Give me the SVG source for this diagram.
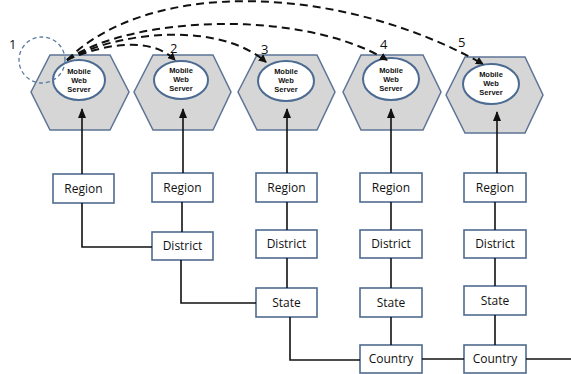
<svg xmlns="http://www.w3.org/2000/svg" width="571" height="374" viewBox="0 0 571 374">
<defs>
<style>
.hex{fill:#d6d6d6;stroke:#5d7496;stroke-width:1.5}
.ell{fill:#ffffff;stroke:#4c6b92;stroke-width:2}
.mt{font-family:"Liberation Sans",Arial,sans-serif;font-size:7.5px;font-weight:bold;fill:#111;text-anchor:middle}
.box{fill:#ffffff;stroke:#4f6b8e;stroke-width:1.6}
.bt{font-family:"Open Sans","Liberation Sans",sans-serif;font-size:12px;fill:#111;text-anchor:middle}
.num{font-family:"Open Sans","Liberation Sans",sans-serif;font-size:13px;fill:#111}
.ln{fill:none;stroke:#111;stroke-width:1.6}
.dash{fill:none;stroke:#111;stroke-width:2;stroke-dasharray:8,5}
</style>
<marker id="ah" markerWidth="8" markerHeight="8" refX="7" refY="4" orient="auto" markerUnits="userSpaceOnUse">
<path d="M0,0 L8,4 L0,8 Z" fill="#111"/>
</marker>
<marker id="av" markerWidth="10" markerHeight="10" refX="9" refY="5" orient="auto" markerUnits="userSpaceOnUse">
<path d="M0,1 L10,5 L0,9 Z" fill="#111"/>
</marker>
</defs>
<rect width="571" height="374" fill="#ffffff"/>

<g id="server1">
<polygon class="hex" points="31,92 50,55 110,55 129,92 110,130 50,130"/>
<ellipse class="ell" cx="79" cy="80" rx="26" ry="20"/>
<text class="mt" x="79" y="74">Mobile</text><text class="mt" x="79" y="83">Web</text><text class="mt" x="79" y="92">Server</text>
</g>
<g id="server2">
<polygon class="hex" points="134,92 153,55 213,55 231,92 213,130 153,130"/>
<ellipse class="ell" cx="181" cy="80" rx="27" ry="19"/>
<text class="mt" x="181" y="73">Mobile</text><text class="mt" x="181" y="82">Web</text><text class="mt" x="181" y="91">Server</text>
</g>
<g id="server3">
<polygon class="hex" points="238,92 257,55 317,55 335,92 317,130 257,130"/>
<ellipse class="ell" cx="286" cy="81" rx="28" ry="20"/>
<text class="mt" x="286" y="74">Mobile</text><text class="mt" x="286" y="83">Web</text><text class="mt" x="286" y="92">Server</text>
</g>
<g id="server4">
<polygon class="hex" points="343,92 361,55 423,55 441,92 423,130 361,130"/>
<ellipse class="ell" cx="391" cy="79" rx="28" ry="21"/>
<text class="mt" x="391" y="73">Mobile</text><text class="mt" x="391" y="82">Web</text><text class="mt" x="391" y="91">Server</text>
</g>
<g id="server5">
<polygon class="hex" points="446,95 465,57 525,57 543,95 525,133 465,133"/>
<ellipse class="ell" cx="491" cy="84" rx="28" ry="20"/>
<text class="mt" x="491" y="77">Mobile</text><text class="mt" x="491" y="86">Web</text><text class="mt" x="491" y="95">Server</text>
</g>

<circle cx="42" cy="60" r="23" fill="none" stroke="#5a7aa0" stroke-width="1.3" stroke-dasharray="4,3"/>

<g id="labels">
<text class="num" x="9" y="49">1</text>
<text class="num" x="170" y="53">2</text>
<text class="num" x="261" y="54">3</text>
<text class="num" x="380" y="49">4</text>
<text class="num" x="458" y="47">5</text>
</g>

<g id="region1"><rect class="box" x="53" y="174" width="61" height="29"/><text class="bt" x="83.5" y="193">Region</text></g>
<g id="region2"><rect class="box" x="152" y="173" width="61" height="29"/><text class="bt" x="182.5" y="192">Region</text></g>
<g id="district2"><rect class="box" x="152" y="232" width="61" height="28"/><text class="bt" x="182.5" y="250">District</text></g>
<g id="region3"><rect class="box" x="256" y="173" width="61" height="29"/><text class="bt" x="286.5" y="192">Region</text></g>
<g id="district3"><rect class="box" x="256" y="230" width="61" height="28"/><text class="bt" x="286.5" y="248">District</text></g>
<g id="state3"><rect class="box" x="256" y="288" width="61" height="29"/><text class="bt" x="286.5" y="307">State</text></g>
<g id="region4"><rect class="box" x="360" y="173" width="62" height="29"/><text class="bt" x="391" y="192">Region</text></g>
<g id="district4"><rect class="box" x="360" y="230" width="62" height="28"/><text class="bt" x="391" y="248">District</text></g>
<g id="state4"><rect class="box" x="360" y="288" width="62" height="29"/><text class="bt" x="391" y="307">State</text></g>
<g id="country4"><rect class="box" x="360" y="345" width="62" height="28"/><text class="bt" x="391" y="363">Country</text></g>
<g id="region5"><rect class="box" x="464" y="173" width="62" height="29"/><text class="bt" x="495" y="192">Region</text></g>
<g id="district5"><rect class="box" x="464" y="230" width="62" height="28"/><text class="bt" x="495" y="248">District</text></g>
<g id="state5"><rect class="box" x="464" y="286" width="62" height="29"/><text class="bt" x="495" y="305">State</text></g>
<g id="country5"><rect class="box" x="464" y="345" width="62" height="28"/><text class="bt" x="495" y="363">Country</text></g>

<g id="connectors">
<line class="ln" x1="82" y1="174" x2="82" y2="109" marker-end="url(#av)"/>
<line class="ln" x1="183" y1="173" x2="183" y2="109" marker-end="url(#av)"/>
<line class="ln" x1="287" y1="173" x2="287" y2="109" marker-end="url(#av)"/>
<line class="ln" x1="391" y1="173" x2="391" y2="109" marker-end="url(#av)"/>
<line class="ln" x1="497" y1="173" x2="497" y2="112" marker-end="url(#av)"/>
<polyline class="ln" points="82,203 82,247 152,247"/>
<line class="ln" x1="182" y1="202" x2="182" y2="232"/>
<polyline class="ln" points="181,260 181,303 256,303"/>
<line class="ln" x1="287" y1="202" x2="287" y2="230"/>
<line class="ln" x1="287" y1="258" x2="287" y2="288"/>
<polyline class="ln" points="290,317 290,360 360,360"/>
<line class="ln" x1="391" y1="202" x2="391" y2="230"/>
<line class="ln" x1="391" y1="258" x2="391" y2="288"/>
<line class="ln" x1="391" y1="317" x2="391" y2="345"/>
<line class="ln" x1="495" y1="202" x2="495" y2="230"/>
<line class="ln" x1="495" y1="258" x2="495" y2="286"/>
<line class="ln" x1="495" y1="315" x2="495" y2="345"/>
<line class="ln" x1="422" y1="359" x2="464" y2="359"/>
<line class="ln" x1="526" y1="359" x2="571" y2="359"/>
<path class="dash" d="M67,60 C100,45 150,35 175,60" marker-end="url(#ah)"/>
<path class="dash" d="M67,60 C120,30 220,22 266,62" marker-end="url(#ah)"/>
<path class="dash" d="M67,60 C130,16 300,8 387,60" marker-end="url(#ah)"/>
<path class="dash" d="M67,60 C150,-22 340,-16 483,64" marker-end="url(#ah)"/>
</g>
</svg>
